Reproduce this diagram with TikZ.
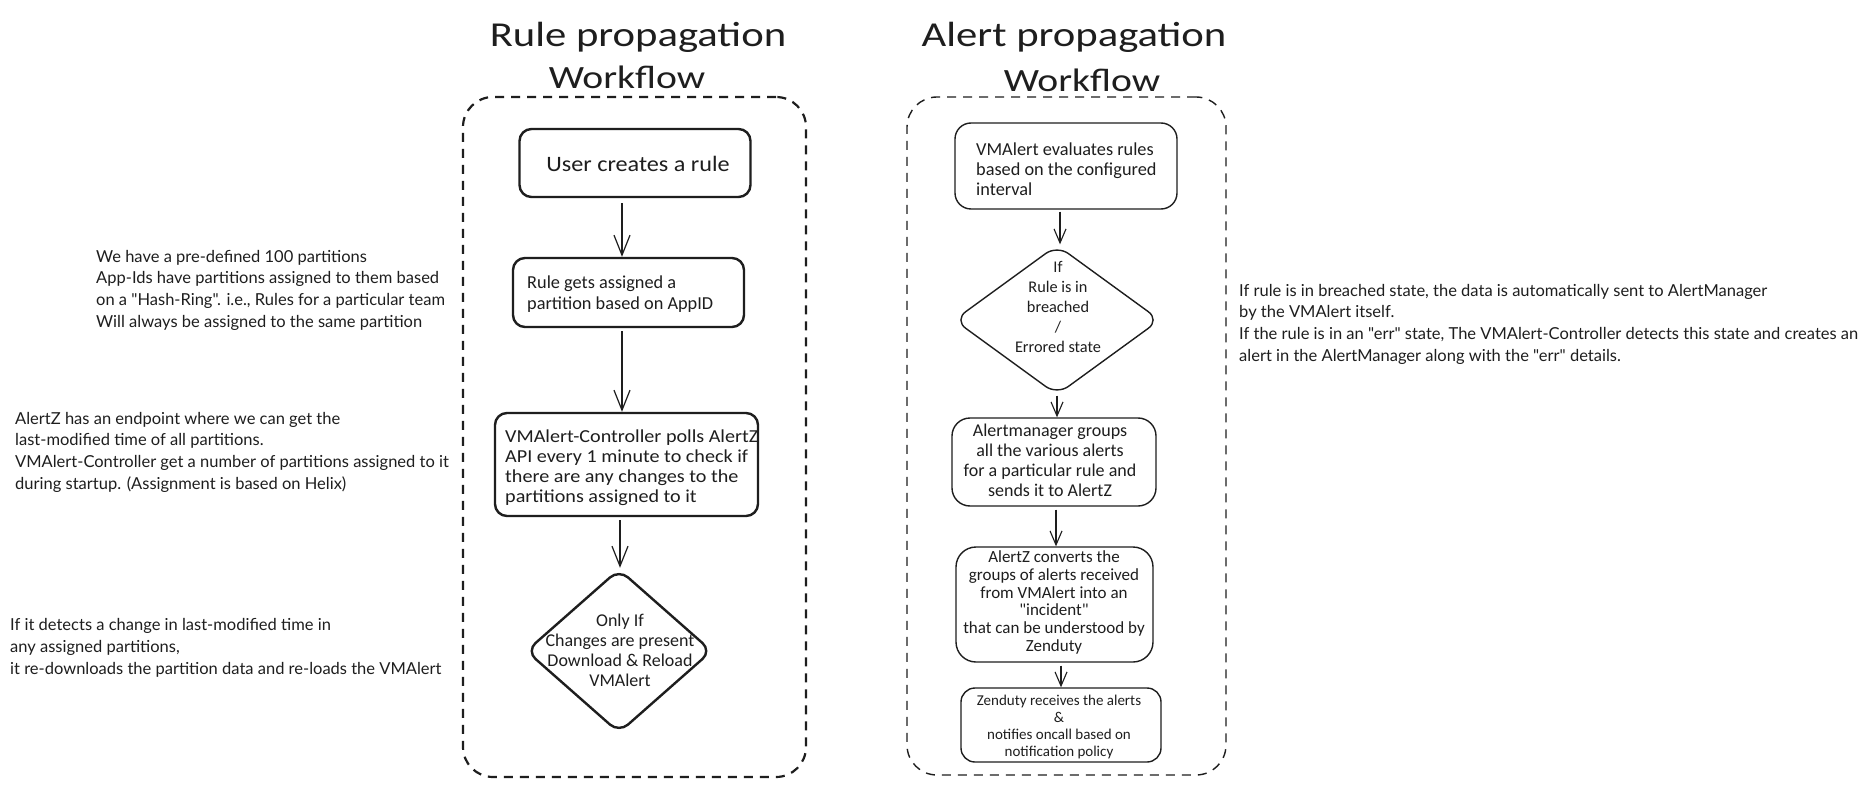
\documentclass[tikz,border=0pt]{standalone}
\usepackage{fontspec}
\setmainfont{Lato}[Ligatures=TeXOff]
\newfontfamily\hand{Carlito}
\newfontfamily\handS{Carlito}[FakeStretch=1.1]
\newfontfamily\handT{Carlito}[FakeStretch=1.22]
\newcommand\myq{\char34\relax}
\usetikzlibrary{arrows.meta,shapes.geometric}
\definecolor{ink}{HTML}{1E1E1E}
\begin{document}
\begin{tikzpicture}[x=1pt,y=-1pt,
  frame/.style={draw=ink, dash pattern=on 9pt off 7pt, inner sep=0pt},
  rbox/.style={draw=ink, line width=2.4pt, rounded corners=12pt, inner sep=0pt},
  abox/.style={draw=ink, line width=1.4pt, rounded corners=16pt, inner sep=0pt},
  rdia/.style={draw=ink, line width=2.4pt, diamond, rounded corners=12pt, inner sep=0pt},
  adia/.style={draw=ink, line width=1.4pt, diamond, rounded corners=14pt, inner sep=0pt},
  htext/.style={text=ink, inner sep=0pt},
  note/.style={text=ink, inner sep=0pt, align=left, anchor=west, font=\fontsize{16.5}{21.7}\selectfont},
  rarr/.style={draw=ink, line width=1.2pt, -{Straight Barb[length=20pt,width=16pt]}},
  aarr/.style={draw=ink, line width=1.1pt, -{Straight Barb[length=14pt,width=12pt]}}
]
\useasboundingbox (0,0) rectangle (1873,786);
\fill[white] (0,0) rectangle (1873,786);

% titles
\node[htext, font=\handT\fontsize{35}{44}\selectfont] (T1a) at (638,37) {Rule propagation};
\node[htext, font=\handT\fontsize{32.5}{44}\selectfont] (T1b) at (627,77) {Workflow};
\node[htext, font=\handT\fontsize{35}{44}\selectfont] (T2a) at (1074,37) {Alert propagation};
\node[htext, font=\handT\fontsize{32.5}{44}\selectfont] (T2b) at (1082,80) {Workflow};

% containers
\node[frame, line width=2.2pt, rounded corners=30pt, minimum width=343pt, minimum height=680pt] (F1) at (634.5,437) {};
\node[frame, line width=1.4pt, rounded corners=30pt, minimum width=319pt, minimum height=678pt] (F2) at (1066.5,436) {};

% rule workflow
\node[rbox, minimum width=231pt, minimum height=68pt] (N1) at (635,163) {};
\node[htext, font=\handS\fontsize{22}{26}\selectfont] (N1t) at (638,164) {User creates a rule};

\node[rbox, minimum width=231pt, minimum height=69pt] (N2) at (628.5,292.5) {};
\node[htext, anchor=west, align=left, font=\hand\fontsize{18.3}{21}\selectfont] (N2t) at (527,294) {Rule gets assigned a\\partition based on AppID};

\node[rbox, minimum width=263pt, minimum height=103pt] (N3) at (626.5,464.5) {};
\node[htext, anchor=west, align=left, font=\handS\fontsize{18.3}{20}\selectfont] (N3t) at (505,468) {VMAlert-Controller polls AlertZ\\API every 1 minute to check if\\there are any changes to the\\partitions assigned to it};

\node[rdia, minimum width=186pt, minimum height=164pt] (D1) at (619,651) {};
\node[htext, align=center, font=\hand\fontsize{18}{20}\selectfont] (D1t) at (620,650) {Only If\\Changes are present\\Download \& Reload\\VMAlert};

\coordinate (x1) at (622,0);
\coordinate (x2) at (622,0);
\coordinate (x3) at (620,0);
\draw[rarr, shorten <=5pt] (N1.south -| x1) -- (N2.north -| x1);
\draw[rarr, shorten <=3pt] (N2.south -| x2) -- (N3.north -| x2);
\draw[rarr, shorten <=3pt] (N3.south -| x3) -- (D1.north -| x3);

% alert workflow
\node[abox, minimum width=222pt, minimum height=86pt] (A1) at (1066,166) {};
\node[htext, anchor=west, align=left, font=\hand\fontsize{18.3}{20}\selectfont] (A1t) at (976,169) {VMAlert evaluates rules\\based on the configured\\ interval};

\node[adia, minimum width=206pt, minimum height=150pt] (D2) at (1057,320) {};
\node[htext, align=center, font=\hand\fontsize{16.3}{20}\selectfont] (D2t) at (1058,307) {If\\Rule is in\\breached\\/\\Errored state};

\node[abox, minimum width=204pt, minimum height=88pt, rounded corners=18pt] (A2) at (1054,462) {};
\node[htext, align=center, font=\hand\fontsize{18}{20}\selectfont] (A2t) at (1050,460) {Alertmanager groups\\all the various alerts\\for a particular rule and\\sends it to AlertZ};

\node[abox, minimum width=197pt, minimum height=115pt, rounded corners=20pt] (A3) at (1054.5,604.5) {};
\node[htext, align=center, font=\hand\fontsize{17}{17.8}\selectfont] (A3t) at (1054,602.5) {AlertZ converts the\\groups of alerts received\\from VMAlert into an\\\myq incident\myq\\that can be understood by\\Zenduty};

\node[abox, minimum width=200pt, minimum height=74pt, rounded corners=14pt] (A4) at (1061,725) {};
\node[htext, align=center, font=\hand\fontsize{15}{16.7}\selectfont] (A4t) at (1059,727) {Zenduty receives the alerts\\\&\\notifies oncall based on\\notification policy};

\coordinate (y1) at (1060,0);
\coordinate (y2) at (1057,0);
\coordinate (y3) at (1056,0);
\coordinate (y4) at (1061,0);
\draw[aarr, shorten <=2pt] (A1.south -| y1) -- (D2.north -| y1);
\draw[aarr] (D2.south -| y2) -- (A2.north -| y2);
\draw[aarr, shorten <=3pt] (A2.south -| y3) -- (A3.north -| y3);
\draw[aarr, shorten <=3pt] (A3.south -| y4) -- (A4.north -| y4);

% annotations
\node[note] (L1) at (96,290) {We have a pre-defined 100 partitions\\App-Ids have partitions assigned to them based\\on a "Hash-Ring". i.e., Rules for a particular team\\Will always be assigned to the same partition};
\node[note] (L2) at (15,452) {AlertZ has an endpoint where we can get the\\last-modified time of all partitions.\\VMAlert-Controller get a number of partitions assigned to it\\during startup. (Assignment is based on Helix)};
\node[note] (L3) at (10,648) {If it detects a change in last-modified time in\\any assigned partitions,\\it re-downloads the partition data and re-loads the VMAlert};
\node[note] (R1) at (1239,324) {If rule is in breached state, the data is automatically sent to AlertManager\\by the VMAlert itself.\\If the rule is in an "err" state, The VMAlert-Controller detects this state and creates an\\alert in the AlertManager along with the "err" details.};
\end{tikzpicture}
\end{document}
